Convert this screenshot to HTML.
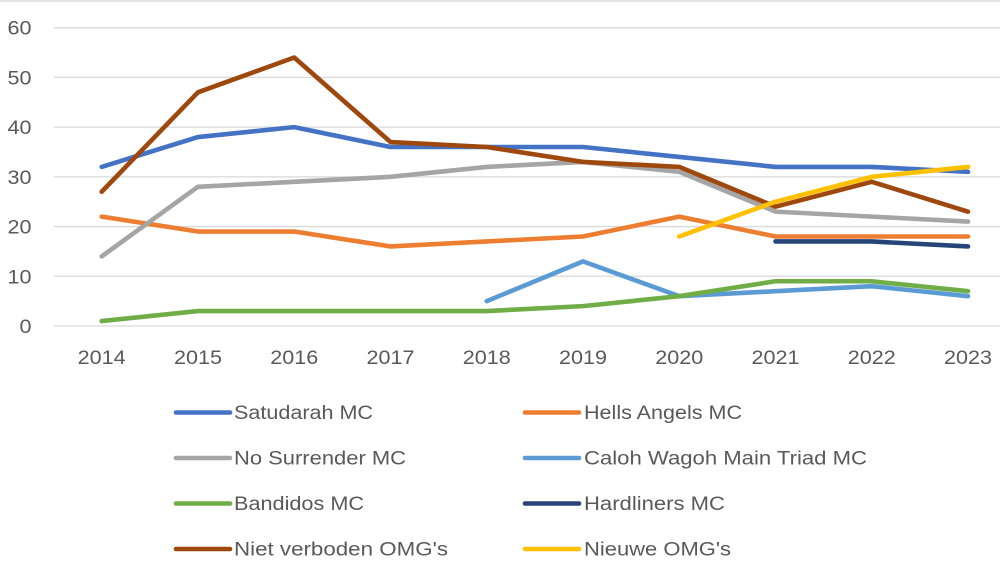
<!DOCTYPE html>
<html>
<head>
<meta charset="utf-8">
<style>
  html, body { margin: 0; padding: 0; background: #ffffff; }
  svg { display: block; }
  text { font-family: "Liberation Sans", sans-serif; fill: #595959; }
</style>
</head>
<body>
<svg width="1000" height="568" viewBox="0 0 1000 568" xmlns="http://www.w3.org/2000/svg">
  <rect x="0" y="0" width="1000" height="568" fill="#ffffff"/>
  <!-- top border -->
  <line x1="0" y1="1" x2="1000" y2="1" stroke="#d9d9d9" stroke-width="1.5"/>

  <!-- gridlines -->
  <g stroke="#d9d9d9" stroke-width="1.3">
    <line x1="54" y1="27.68" x2="1000" y2="27.68"/>
    <line x1="54" y1="77.4" x2="1000" y2="77.4"/>
    <line x1="54" y1="127.12" x2="1000" y2="127.12"/>
    <line x1="54" y1="176.84" x2="1000" y2="176.84"/>
    <line x1="54" y1="226.56" x2="1000" y2="226.56"/>
    <line x1="54" y1="276.28" x2="1000" y2="276.28"/>
    <line x1="54" y1="326" x2="1000" y2="326"/>
  </g>

  <!-- y tick labels -->
  <g font-size="19.5" text-anchor="end">
    <text x="31.5" y="34.7" textLength="24" lengthAdjust="spacingAndGlyphs">60</text>
    <text x="31.5" y="84.4" textLength="24" lengthAdjust="spacingAndGlyphs">50</text>
    <text x="31.5" y="134.1" textLength="24" lengthAdjust="spacingAndGlyphs">40</text>
    <text x="31.5" y="183.8" textLength="24" lengthAdjust="spacingAndGlyphs">30</text>
    <text x="31.5" y="233.6" textLength="24" lengthAdjust="spacingAndGlyphs">20</text>
    <text x="31.5" y="283.3" textLength="24" lengthAdjust="spacingAndGlyphs">10</text>
    <text x="31.5" y="333" textLength="12" lengthAdjust="spacingAndGlyphs">0</text>
  </g>

  <!-- x tick labels -->
  <g font-size="19.5" text-anchor="middle">
    <text x="101.7" y="364" textLength="48" lengthAdjust="spacingAndGlyphs">2014</text>
    <text x="197.96" y="364" textLength="48" lengthAdjust="spacingAndGlyphs">2015</text>
    <text x="294.22" y="364" textLength="48" lengthAdjust="spacingAndGlyphs">2016</text>
    <text x="390.48" y="364" textLength="48" lengthAdjust="spacingAndGlyphs">2017</text>
    <text x="486.74" y="364" textLength="48" lengthAdjust="spacingAndGlyphs">2018</text>
    <text x="583" y="364" textLength="48" lengthAdjust="spacingAndGlyphs">2019</text>
    <text x="679.26" y="364" textLength="48" lengthAdjust="spacingAndGlyphs">2020</text>
    <text x="775.52" y="364" textLength="48" lengthAdjust="spacingAndGlyphs">2021</text>
    <text x="871.78" y="364" textLength="48" lengthAdjust="spacingAndGlyphs">2022</text>
    <text x="968.04" y="364" textLength="48" lengthAdjust="spacingAndGlyphs">2023</text>
  </g>

  <!-- series -->
  <g fill="none" stroke-width="4.6" stroke-linecap="round" stroke-linejoin="round">
    <!-- Satudarah MC -->
    <polyline stroke="#4472C4" points="101.7,166.9 197.96,137.06 294.22,127.12 390.48,147.01 486.74,147.01 583,147.01 679.26,156.95 775.52,166.9 871.78,166.9 968.04,171.87"/>
    <!-- Hells Angels MC -->
    <polyline stroke="#ED7D31" points="101.7,216.62 197.96,231.53 294.22,231.53 390.48,246.45 486.74,241.48 583,236.5 679.26,216.62 775.52,236.5 871.78,236.5 968.04,236.5"/>
    <!-- No Surrender MC -->
    <polyline stroke="#A5A5A5" points="101.7,256.39 197.96,186.78 294.22,181.81 390.48,176.84 486.74,166.9 583,161.92 679.26,171.87 775.52,211.64 871.78,216.62 968.04,221.59"/>
    <!-- Caloh Wagoh Main Triad MC -->
    <polyline stroke="#5B9BD5" points="486.74,301.14 583,261.36 679.26,296.17 775.52,291.2 871.78,286.22 968.04,296.17"/>
    <!-- Bandidos MC -->
    <polyline stroke="#70AD47" points="101.7,321.03 197.96,311.08 294.22,311.08 390.48,311.08 486.74,311.08 583,306.11 679.26,296.17 775.52,281.25 871.78,281.25 968.04,291.2"/>
    <!-- Hardliners MC -->
    <polyline stroke="#264478" points="775.52,241.48 871.78,241.48 968.04,246.45"/>
    <!-- Niet verboden OMG's -->
    <polyline stroke="#9E480E" points="101.7,191.76 197.96,92.32 294.22,57.51 390.48,142.04 486.74,147.01 583,161.92 679.26,166.9 775.52,206.67 871.78,181.81 968.04,211.64"/>
    <!-- Nieuwe OMG's -->
    <polyline stroke="#FFC000" points="679.26,236.5 775.52,201.7 871.78,176.84 968.04,166.9"/>
  </g>

  <!-- legend -->
  <g stroke-width="4.6" stroke-linecap="round">
    <line x1="176" y1="412.5" x2="230" y2="412.5" stroke="#4472C4"/>
    <line x1="525" y1="412.5" x2="579" y2="412.5" stroke="#ED7D31"/>
    <line x1="176" y1="458" x2="230" y2="458" stroke="#A5A5A5"/>
    <line x1="525" y1="458" x2="579" y2="458" stroke="#5B9BD5"/>
    <line x1="176" y1="503.5" x2="230" y2="503.5" stroke="#70AD47"/>
    <line x1="525" y1="503.5" x2="579" y2="503.5" stroke="#264478"/>
    <line x1="176" y1="549" x2="230" y2="549" stroke="#9E480E"/>
    <line x1="525" y1="549" x2="579" y2="549" stroke="#FFC000"/>
  </g>
  <g font-size="19">
    <text x="234" y="418.8" textLength="139" lengthAdjust="spacingAndGlyphs">Satudarah MC</text>
    <text x="584" y="418.8" textLength="158" lengthAdjust="spacingAndGlyphs">Hells Angels MC</text>
    <text x="234" y="464.3" textLength="172" lengthAdjust="spacingAndGlyphs">No Surrender MC</text>
    <text x="584" y="464.3" textLength="283" lengthAdjust="spacingAndGlyphs">Caloh Wagoh Main Triad MC</text>
    <text x="234" y="509.8" textLength="130" lengthAdjust="spacingAndGlyphs">Bandidos MC</text>
    <text x="584" y="509.8" textLength="141" lengthAdjust="spacingAndGlyphs">Hardliners MC</text>
    <text x="234" y="555.3" textLength="214" lengthAdjust="spacingAndGlyphs">Niet verboden OMG's</text>
    <text x="584" y="555.3" textLength="147" lengthAdjust="spacingAndGlyphs">Nieuwe OMG's</text>
  </g>
</svg>
</body>
</html>
